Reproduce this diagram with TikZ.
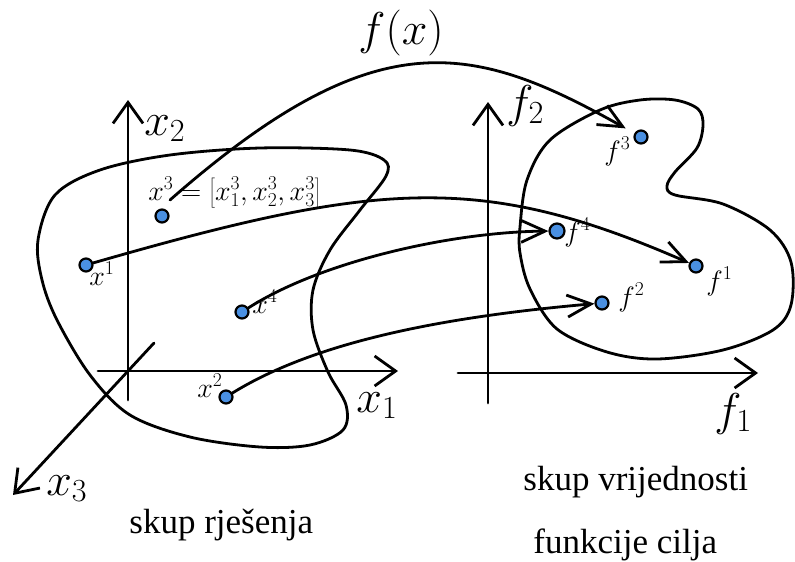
\RequirePackage{fix-cm}
\documentclass[tikz,border=0pt]{standalone}
\usepackage{fontspec}
\setmainfont{Liberation Serif}
\usetikzlibrary{arrows.meta}
\definecolor{dotblue}{HTML}{4A90E2}
\begin{document}
\begin{tikzpicture}[x=1pt,y=-1pt,line width=2.8pt,line cap=round,line join=round,
  axis/.style={-{Straight Barb[length=21pt,width=30pt]}},
  map/.style={-{Straight Barb[length=24pt,width=22pt]}},
  dot/.style={circle,fill=dotblue,draw=black,line width=2.2pt,inner sep=0pt,minimum size=13pt},
  lbl/.style={inner sep=0pt,anchor=base west,font=\fontsize{28}{32}\selectfont},
  big/.style={inner sep=0pt,anchor=base west,font=\fontsize{46}{50}\selectfont},
  txt/.style={inner sep=0pt,anchor=base west,font=\fontsize{35}{40}\selectfont},
  blob/.style={smooth cycle,tension=0.55}]
\useasboundingbox (0,0) rectangle (795,562);
% left axes
\coordinate (x2b) at (128,400); \coordinate (x2t) at (128,100);
\coordinate (x1l) at (98,371);  \coordinate (x1r) at (398,371);
\coordinate (x3s) at (154,343); \coordinate (x3e) at (13,495);
\draw[axis] (x2b) -- (x2t);
\draw[axis] (x1l) -- (x1r);
\draw[axis] (x3s) -- (x3e);
\node[big] (lx2) at (143,135) {$x_2$};
\node[big] (lx1) at (355,412) {$x_1$};
\node[big] (lx3) at (45,495) {$x_3$};
% right axes
\coordinate (f2b) at (488,403); \coordinate (f2t) at (488,102);
\coordinate (f1l) at (458,373); \coordinate (f1r) at (758,373);
\draw[axis] (f2b) -- (f2t);
\draw[axis] (f1l) -- (f1r);
\node[big] (lf2) at (505,117) {$f_2$};
\node[big] (lf1) at (713,425) {$f_1$};
% blobs
\draw plot[blob] coordinates {(38,240) (55,195) (100,170) (170,155) (260,148) (350,150) (384,160) (386,176) (360,210) (330,250) (313,290) (313,330) (328,372) (346,405) (343,430) (310,445) (260,447) (190,437) (130,415) (90,375) (57,320) (42,280)};
\draw plot[blob] coordinates {(520,227) (527,180) (550,140) (600,110) (640,100) (675,100) (698,109) (703,125) (697,148) (675,172) (667,186) (675,195) (723,204) (770,230) (791,262) (791,305) (773,330) (723,350) (657,359) (607,352) (557,329) (530,289) (520,253)};
% points
\node[dot] (p1) at (86,265) {};
\node[dot] (p2) at (226,397) {};
\node[dot] (p3) at (162,216) {};
\node[dot] (p4) at (242,312) {};
\node[dot] (q1) at (696,266) {};
\node[dot] (q2) at (602,303) {};
\node[dot] (q3) at (641,137) {};
\node[dot,minimum size=15pt] (q4) at (557,231) {};
\coordinate (fxs) at (170,200);
% mappings
\draw[map] (p1) .. controls (378,181) and (481,172) .. (q1);
\draw[map] (p4) .. controls (320,262) and (450,232) .. (q4);
\draw[map] (p2) .. controls (310,345) and (430,318) .. (q2);
\draw[map,shorten >=10pt] (fxs) .. controls (376,19) and (472,42) .. (q3);
% labels
\node[big] (lfx) at (357,44) {$f(x)$};
\node[lbl] (l1) at (88,285) {$x^1$};
\node[lbl] (l2) at (196,397) {$x^2$};
\node[lbl] (l3) at (147,200) {$x^3=\left[x_1^3,x_2^3,x_3^3\right]$};
\node[lbl] (l4) at (251,313) {$x^4$};
\node[lbl] (m1) at (705,290) {$f^1$};
\node[lbl] (m2) at (617,306) {$f^2$};
\node[lbl] (m3) at (603,160) {$f^3$};
\node[lbl] (m4) at (563,241) {$f^4$};
\node[txt] (t1) at (128,533) {skup rješenja};
\node[txt] (t2) at (522,490) {skup vrijednosti};
\node[txt] (t3) at (532,553) {funkcije cilja};
\end{tikzpicture}
\end{document}
